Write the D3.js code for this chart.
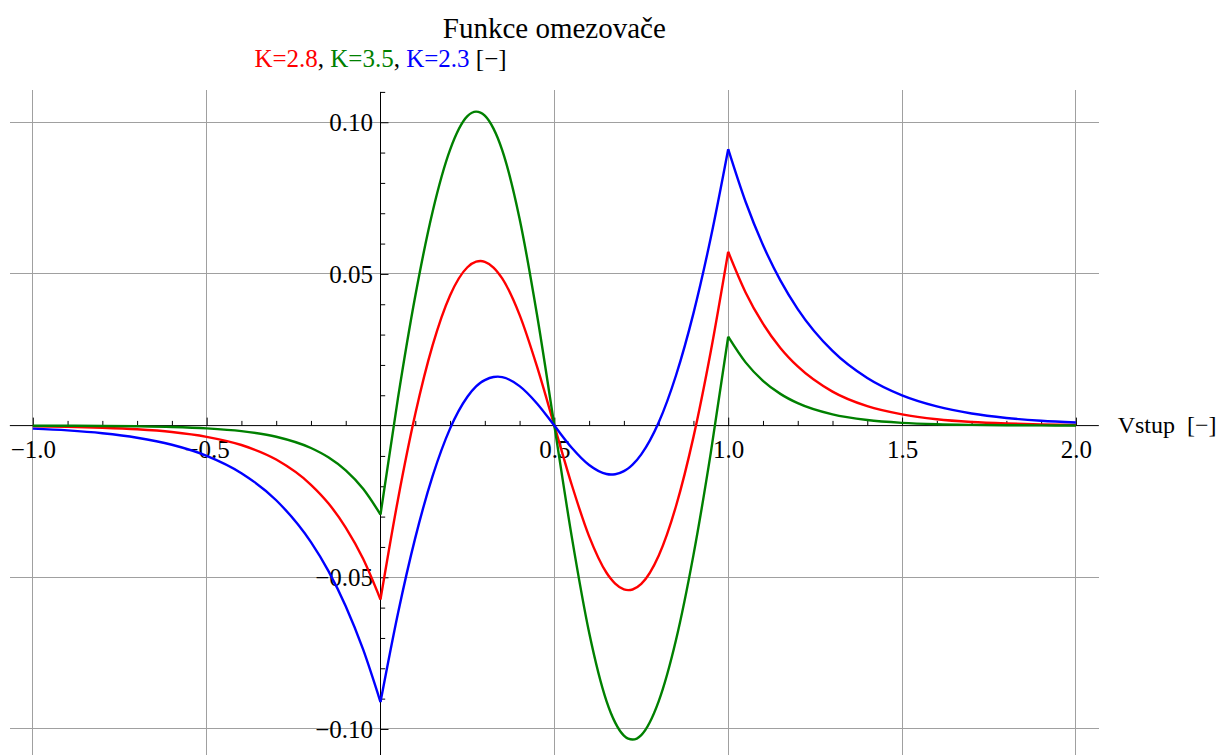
<!DOCTYPE html>
<html>
<head>
<meta charset="utf-8">
<script src="https://cdn.jsdelivr.net/npm/d3@7"></script>
<style>
  html, body { margin: 0; padding: 0; background: #ffffff; }
  svg { display: block; font-family: "Liberation Serif", "Times New Roman", serif; }
</style>
</head>
<body>
<svg id="chart" width="1221" height="755"></svg>
<script>
// Input values (Vstup) at which the limiter error is sampled
const vstup = [-1, -0.9, -0.8, -0.7, -0.6, -0.5, -0.4, -0.3, -0.2, -0.15, -0.1, -0.05, 0,
  0.05, 0.1, 0.15, 0.2, 0.25, 0.275, 0.2875, 0.3, 0.325, 0.3375, 0.35, 0.4, 0.45, 0.5,
  0.55, 0.6, 0.65, 0.6625, 0.675, 0.7, 0.7125, 0.725, 0.75, 0.8, 0.85, 0.9, 0.95,
  1, 1.05, 1.1, 1.15, 1.2, 1.3, 1.4, 1.5, 1.6, 1.7, 1.8, 1.9, 2];

// Limiter function output for each gain K
const k28 = [-0.0002, -0.0004, -0.0007, -0.0012, -0.0021, -0.0037, -0.0064, -0.0112, -0.0195, -0.0256, -0.0336, -0.0439, -0.0573,
  -0.0245, 0.0038, 0.0265, 0.0429, 0.0522, 0.05403, 0.05424, 0.05400, 0.0521, 0.0505, 0.0485, 0.0365, 0.0195, 0,
  -0.0195, -0.0365, -0.0485, -0.0505, -0.0521, -0.05400, -0.05424, -0.05403, -0.0522, -0.0429, -0.0265, -0.0038, 0.0245,
  0.0573, 0.0439, 0.0336, 0.0256, 0.0195, 0.0112, 0.0064, 0.0037, 0.0021, 0.0012, 0.0007, 0.0004, 0.0002];
const k35 = [-0.00003, -0.00006, -0.00011, -0.00023, -0.00045, -0.00091, -0.00183, -0.00368, -0.00739, -0.01046, -0.01477, -0.02084, -0.02931,
  0.0089, 0.0427, 0.0706, 0.0909, 0.1020, 0.10349, 0.10320, 0.10218, 0.0979, 0.09472, 0.0908, 0.0682, 0.0366, 0,
  -0.0366, -0.0682, -0.0908, -0.09472, -0.0979, -0.10218, -0.10320, -0.10349, -0.1020, -0.0909, -0.0706, -0.0427, -0.0089,
  0.02931, 0.02084, 0.01477, 0.01046, 0.00739, 0.00368, 0.00183, 0.00091, 0.00045, 0.00023, 0.00011, 0.00006, 0.00003];
const k23 = [-0.00101, -0.00159, -0.00252, -0.00399, -0.00631, -0.00995, -0.01567, -0.02460, -0.03842, -0.04788, -0.05952, -0.07378, -0.09112,
  -0.0620, -0.0370, -0.0166, -0.0010, 0.0095, 0.0129, 0.01411, 0.0150, 0.01604, 0.01613, 0.01597, 0.0130, 0.0073, 0,
  -0.0073, -0.0130, -0.01597, -0.01613, -0.01604, -0.0150, -0.01411, -0.0129, -0.0095, 0.0010, 0.0166, 0.0370, 0.0620,
  0.09112, 0.07378, 0.05952, 0.04788, 0.03842, 0.02460, 0.01567, 0.00995, 0.00631, 0.00399, 0.00252, 0.00159, 0.00101];

const seriesLabels = ["K=2.8", "K=3.5", "K=2.3"];
const seriesColors = ["#ff0000", "#008000", "#0000ff"];

// Corners of the limiter characteristic: curves are smooth only between these
const kinks = [0, 1];

// Axis ticks and labels
const xMajor = [-1, -0.5, 0.5, 1, 1.5, 2];
const xMajorLabels = ["\u22121.0", "\u22120.5", "0.5", "1.0", "1.5", "2.0"];
const yMajor = [-0.1, -0.05, 0.05, 0.1];
const yMajorLabels = ["\u22120.10", "\u22120.05", "0.05", "0.10"];

const titleText = "Funkce omezova\u010De";
const xAxisTitle = "Vstup  [\u2212]";
const unitText = " [\u2212]";

const svg = d3.select("#chart");

const xLo = -1.066, xHi = 2.066;
const x = d3.scaleLinear().domain([-1, 2]).range([32.8, 1075.9]);
const y = d3.scaleLinear().domain([-0.11, 0.11]).range([759.3, 91.9]);

const xMinor = d3.range(-10, 21).map(i => i / 10).filter(v => !xMajor.some(m => Math.abs(m - v) < 1e-9) && v !== 0);
const yMinor = d3.range(-11, 12).map(i => i / 100).filter(v => !yMajor.some(m => Math.abs(m - v) < 1e-9) && v !== 0);

// Grid
const grid = svg.append("g").attr("stroke", "#a0a0a0").attr("stroke-width", 1).attr("shape-rendering", "crispEdges");
grid.selectAll("line.gx").data(xMajor).join("line")
  .attr("class", "gx")
  .attr("x1", d => x(d)).attr("x2", d => x(d))
  .attr("y1", 90).attr("y2", 755);
grid.selectAll("line.gy").data(yMajor).join("line")
  .attr("class", "gy")
  .attr("x1", x(xLo)).attr("x2", x(xHi))
  .attr("y1", d => y(d)).attr("y2", d => y(d));

// Axes
const fontSize = 25;
const serif = "Liberation Serif, Times New Roman, serif";
const xAxisG = svg.append("g").attr("transform", `translate(0,${y(0)})`);
xAxisG.call(d3.axisBottom(x).tickValues(xMinor).tickSize(-4.7).tickFormat(""));
xAxisG.call(g => g.select(".domain").remove());
const xAxisMajor = svg.append("g").attr("transform", `translate(0,${y(0)})`);
xAxisMajor.call(d3.axisBottom(x).tickValues(xMajor).tickSize(-8).tickPadding(0)
  .tickFormat((d, i) => xMajorLabels[i]));
xAxisMajor.call(g => g.select(".domain").remove());
xAxisMajor.selectAll("text").attr("y", 32.4).attr("dy", null)
  .attr("font-size", fontSize).attr("font-family", serif).attr("fill", "#000");

const yAxisG = svg.append("g").attr("transform", `translate(${x(0)},0)`);
yAxisG.call(d3.axisLeft(y).tickValues(yMinor).tickSize(-4.7).tickFormat(""));
yAxisG.call(g => g.select(".domain").remove());
const yAxisMajor = svg.append("g").attr("transform", `translate(${x(0)},0)`);
yAxisMajor.call(d3.axisLeft(y).tickValues(yMajor).tickSize(-8).tickPadding(7.5)
  .tickFormat((d, i) => yMajorLabels[i]));
yAxisMajor.call(g => g.select(".domain").remove());
yAxisMajor.selectAll("text").attr("dy", "0.34em")
  .attr("font-size", fontSize).attr("font-family", serif).attr("fill", "#000");

svg.selectAll(".tick line").attr("stroke", "#000").attr("stroke-width", 1);

svg.append("line")
  .attr("x1", x(xLo)).attr("x2", x(xHi))
  .attr("y1", y(0)).attr("y2", y(0))
  .attr("stroke", "#000").attr("stroke-width", 1);
svg.append("line")
  .attr("x1", x(0)).attr("x2", x(0))
  .attr("y1", y(0.11)).attr("y2", 755)
  .attr("stroke", "#000").attr("stroke-width", 1);

// Curves, drawn piecewise between the kinks (monotone cubic in x)
const line = d3.line()
  .x(d => x(d[0]))
  .y(d => y(d[1]))
  .curve(d3.curveMonotoneX);

const bounds = [-Infinity, ...kinks, Infinity];
[k28, k35, k23].forEach((vals, si) => {
  const pts = vstup.map((v, i) => [v, vals[i]]);
  for (let b = 0; b < bounds.length - 1; b++) {
    const seg = pts.filter(p => p[0] >= bounds[b] - 1e-9 && p[0] <= bounds[b + 1] + 1e-9);
    svg.append("path")
      .datum(seg)
      .attr("d", line)
      .attr("fill", "none")
      .attr("stroke", seriesColors[si])
      .attr("stroke-width", 2.4)
      .attr("stroke-linejoin", "round");
  }
});

// Title and legend line
svg.append("text")
  .attr("x", x(0.5)).attr("y", 37.5)
  .attr("text-anchor", "middle")
  .attr("font-size", 29)
  .attr("font-family", serif)
  .attr("fill", "#000")
  .text(titleText);

const sub = svg.append("text")
  .attr("x", x(0)).attr("y", 67.3)
  .attr("text-anchor", "middle")
  .attr("font-size", 25)
  .attr("font-family", serif)
  .attr("fill", "#000")
  .style("white-space", "pre");
seriesLabels.forEach((lab, i) => {
  sub.append("tspan").attr("fill", seriesColors[i]).text(lab);
  if (i < seriesLabels.length - 1) sub.append("tspan").attr("fill", "#000").text(", ");
});
sub.append("tspan").attr("fill", "#000").text(unitText);

// Axis title
svg.append("text")
  .attr("x", 1117.7).attr("y", 432.5)
  .attr("font-size", 24)
  .attr("font-family", serif)
  .attr("fill", "#000")
  .style("white-space", "pre")
  .text(xAxisTitle);
</script>
</body>
</html>
